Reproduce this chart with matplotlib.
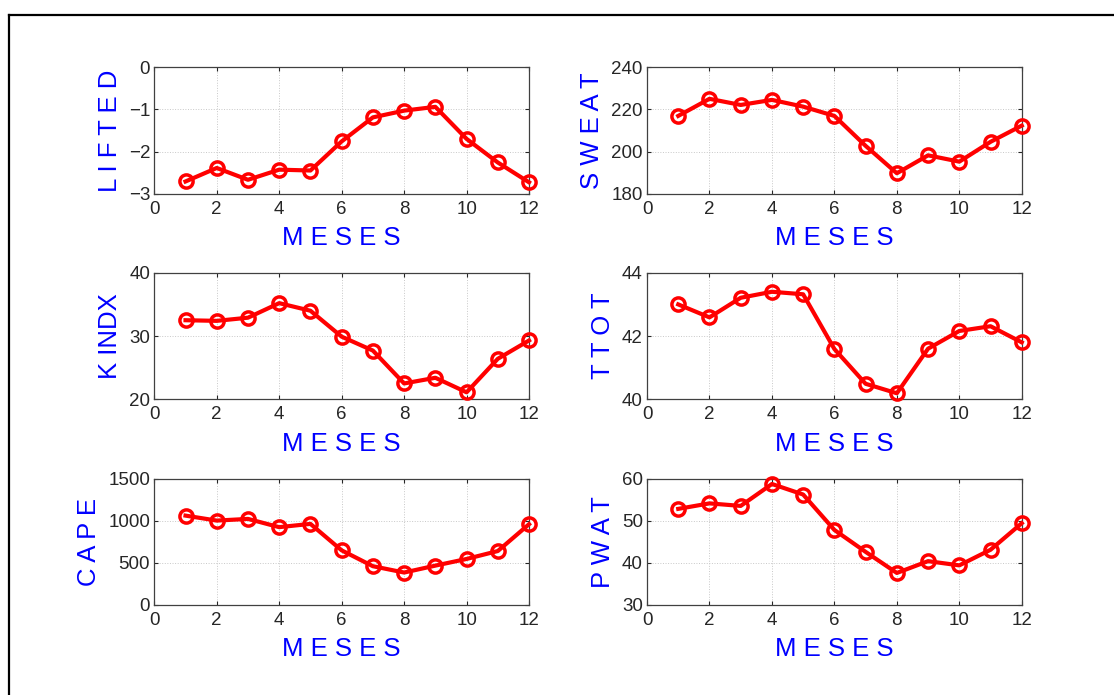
import matplotlib
matplotlib.use('Agg')
import matplotlib.pyplot as plt
from matplotlib.lines import Line2D

plt.rcParams['font.family'] = ['Liberation Sans', 'DejaVu Sans']

meses = list(range(1, 13))

lifted = [-2.71, -2.39, -2.67, -2.43, -2.45, -1.76, -1.19, -1.03, -0.94, -1.70, -2.26, -2.73]
sweat = [216.9, 225.0, 222.1, 224.5, 221.3, 216.9, 202.7, 189.7, 198.2, 195.2, 204.6, 212.3]
kindx = [32.5, 32.4, 32.9, 35.2, 34.0, 29.9, 27.7, 22.5, 23.4, 21.1, 26.4, 29.3]
ttot = [43.0, 42.59, 43.21, 43.4, 43.32, 41.59, 40.49, 40.19, 41.6, 42.16, 42.31, 41.8]
cape = [1060, 1001, 1021, 923, 962, 648, 460, 385, 467, 546, 640, 958]
pwat = [52.8, 54.1, 53.5, 58.7, 56.2, 47.8, 42.6, 37.6, 40.4, 39.4, 43.1, 49.4]

paneles = [
    ('L I F T E D', lifted, (-3, 0), [-3, -2, -1, 0]),
    ('S W E A T', sweat, (180, 240), [180, 200, 220, 240]),
    ('K INDX', kindx, (20, 40), [20, 30, 40]),
    ('T T O T', ttot, (40, 44), [40, 42, 44]),
    ('C A P E', cape, (0, 1500), [0, 500, 1000, 1500]),
    ('P W A T', pwat, (30, 60), [30, 40, 50, 60]),
]

fig = plt.figure(figsize=(11.14, 6.95), dpi=100)

lefts = [0.1385, 0.5808]
bottoms = [0.7213, 0.4255, 0.1295]
w, h = 0.3364, 0.182

for i, (nombre, vals, ylim, yt) in enumerate(paneles):
    fila, col = divmod(i, 2)
    ax = fig.add_axes([lefts[col], bottoms[fila], w, h])
    ax.plot(meses, vals, color='red', lw=3, marker='o', ms=9.5,
            mfc='none', mec='red', mew=2.5, clip_on=False, zorder=3)
    ax.set_xlim(0, 12)
    ax.set_ylim(*ylim)
    ax.set_xticks(range(0, 13, 2))
    ax.set_yticks(yt)
    ax.grid(True, ls=':', color='#c8c8c8', lw=0.7)
    ax.tick_params(direction='in', top=True, right=True, length=3,
                   labelsize=13.5, colors='#262626')
    ax.tick_params(axis='x', pad=5)
    ax.tick_params(axis='y', pad=3)
    for s in ax.spines.values():
        s.set_color('#404040')
        s.set_linewidth(0.9)
    ax.set_xlabel('M E S E S', color='blue', fontsize=18.5, labelpad=6)
    ax.set_ylabel(nombre, color='blue', fontsize=18.5, labelpad=5)

# marco exterior (cortado a la derecha y abajo)
fig.add_artist(Line2D([0.0077, 0.0077], [0.0, 0.979], color='black', lw=1.6))
fig.add_artist(Line2D([0.0077, 1.0], [0.979, 0.979], color='black', lw=1.6))

fig.savefig('out.png', dpi=100)
